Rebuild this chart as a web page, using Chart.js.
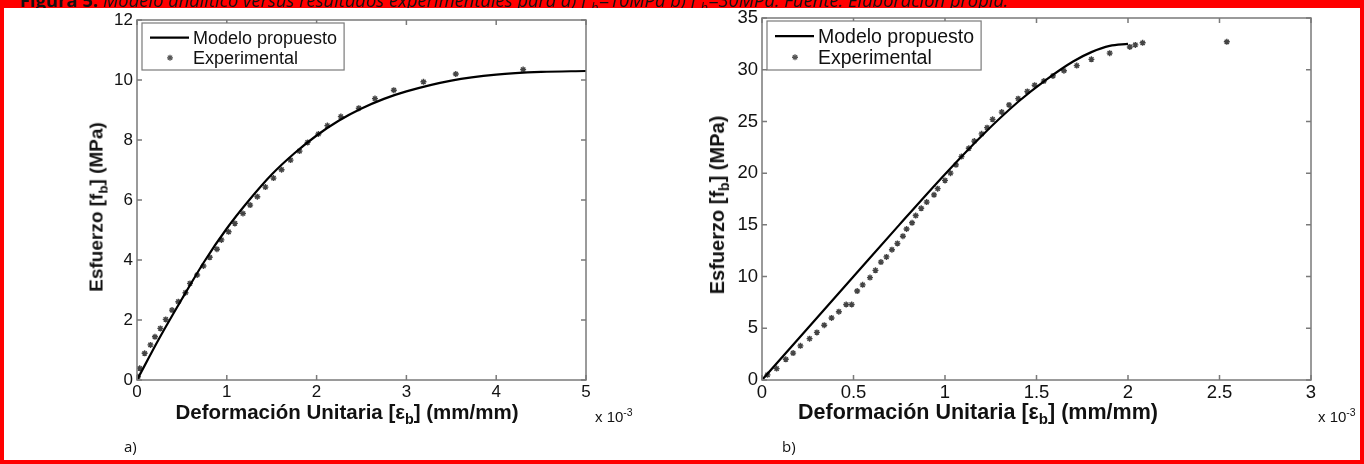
<!DOCTYPE html>
<html>
<head>
<meta charset="utf-8">
<script src="https://cdn.jsdelivr.net/npm/chart.js@4.4.0/dist/chart.umd.min.js"></script>
<style>
  body { margin: 0; background: #fff; }
  #page { position: relative; width: 1364px; height: 464px; overflow: hidden; background: #fff; font-family: "Liberation Sans", Arial, sans-serif; }
  #frame { position: absolute; left: 0; top: 0; width: 1364px; height: 464px; box-sizing: border-box; border: 4px solid #f00; border-top: none; z-index: 3; pointer-events: none; }
  #cap { position: absolute; left: 0; top: 0; width: 1364px; height: 8px; background: #f00; overflow: hidden; z-index: 4; }
  #cap span { position: absolute; left: 20px; top: -13px; white-space: nowrap; font: italic 18.4px "Open Sans", "Noto Sans", sans-serif; color: #111; }
  #cap b { font-style: normal; }
  canvas { position: absolute; top: 0; }
  .t { position: absolute; white-space: nowrap; color: #111; z-index: 2; line-height: 1; }
  .xt, .yt { font-weight: bold; font-family: "Liberation Sans", Arial, sans-serif; }
  .xt { transform: translateX(-50%); }
  .yt { transform: translate(-50%, -50%) rotate(-90deg); }
  .mult { font-family: "Liberation Sans", Arial, sans-serif; }
  .tag { font: 15px "Open Sans", "Noto Sans", sans-serif; }
  sub { font-size: 70%; vertical-align: -0.35em; }
  sup { font-size: 70%; vertical-align: 0.6em; }
</style>
</head>
<body>
<div id="page">
  <div id="cap"><span><b>Figura 5.</b> Modelo analítico versus resultados experimentales para a) f'<sub>b</sub>=10MPa b) f'<sub>b</sub>=30MPa. Fuente: Elaboración propia.</span></div>
  <canvas id="chartA" width="680" height="464" style="left:0"></canvas>
  <canvas id="chartB" width="684" height="464" style="left:680px"></canvas>

  <div class="t yt" style="left:98px; top:207px; font-size:19px">Esfuerzo [f<sub>b</sub>] (MPa)</div>
  <div class="t xt" style="left:347px; top:402px; font-size:20.5px">Deformación Unitaria [ε<sub>b</sub>] (mm/mm)</div>
  <div class="t mult" style="left:595px; top:407px; font-size:15px">x 10<sup>-3</sup></div>
  <div class="t tag" style="left:124px; top:436px">a)</div>

  <div class="t yt" style="left:719px; top:205px; font-size:20px">Esfuerzo [f<sub>b</sub>] (MPa)</div>
  <div class="t xt" style="left:978px; top:402px; font-size:21.5px">Deformación Unitaria [ε<sub>b</sub>] (mm/mm)</div>
  <div class="t mult" style="left:1318px; top:407px; font-size:15px">x 10<sup>-3</sup></div>
  <div class="t tag" style="left:782px; top:436px">b)</div>
  <div id="frame"></div>
</div>
<script>
// strain in x 10^-3 mm/mm, stress in MPa
const seriesNames = ['Modelo propuesto', 'Experimental'];

// a) f'b = 10 MPa
const modelStrainA = [0, 0.25, 0.5, 0.75, 1, 1.25, 1.5, 1.75, 2, 2.25, 2.5, 2.75, 3, 3.5, 4, 4.5, 5];
const modelStressA = [0, 1.4, 2.7, 3.95, 5.05, 6.0, 6.85, 7.55, 8.15, 8.65, 9.05, 9.37, 9.62, 9.98, 10.18, 10.27, 10.3];
const expStrainA = [0.01, 0.03, 0.085, 0.15, 0.2, 0.26, 0.32, 0.39, 0.46, 0.54, 0.59, 0.67, 0.74, 0.81, 0.89, 0.94, 1.02, 1.09,
  1.18, 1.26, 1.34, 1.43, 1.52, 1.61, 1.71, 1.81, 1.9, 2.02, 2.12, 2.27, 2.47, 2.65, 2.86, 3.19, 3.55, 4.3];
const expStressA = [0.11, 0.39, 0.89, 1.17, 1.44, 1.72, 2.02, 2.33, 2.61, 2.91, 3.22, 3.5, 3.8, 4.09, 4.36, 4.67, 4.94, 5.22,
  5.55, 5.83, 6.11, 6.43, 6.73, 7.01, 7.33, 7.63, 7.92, 8.2, 8.48, 8.78, 9.06, 9.38, 9.66, 9.94, 10.2, 10.35];

// b) f'b = 30 MPa
const modelStrainB = [0, 0.25, 0.5, 0.75, 1.0, 1.2, 1.4, 1.55, 1.7, 1.8, 1.9, 2.0];
const modelStressB = [0, 5.0, 10.0, 15.0, 19.9, 23.6, 26.9, 29.0, 30.8, 31.7, 32.3, 32.5];
const expStrainB = [0.03, 0.08, 0.13, 0.17, 0.21, 0.26, 0.3, 0.34, 0.38, 0.42, 0.46, 0.49, 0.52, 0.55, 0.59, 0.62, 0.65, 0.68,
  0.71, 0.74, 0.77, 0.79, 0.82, 0.84, 0.87, 0.9, 0.94, 0.96, 1.0, 1.03, 1.06, 1.09, 1.13, 1.16, 1.2, 1.23, 1.26, 1.31, 1.35,
  1.4, 1.45, 1.49, 1.54, 1.59, 1.65, 1.72, 1.8, 1.9, 2.01, 2.04, 2.08, 2.54];
const expStressB = [0.5, 1.1, 2.0, 2.6, 3.3, 4.0, 4.6, 5.3, 6.0, 6.6, 7.3, 7.3, 8.6, 9.2, 9.9, 10.6, 11.4, 11.9,
  12.6, 13.2, 13.9, 14.6, 15.2, 15.9, 16.6, 17.2, 17.9, 18.5, 19.3, 20.0, 20.8, 21.6, 22.4, 23.1, 23.8, 24.4, 25.2, 25.9, 26.6,
  27.2, 27.9, 28.5, 28.9, 29.4, 29.9, 30.4, 31.0, 31.6, 32.2, 32.4, 32.6, 32.7];

const pts = (xs, ys) => xs.map((x, i) => ({ x: x, y: ys[i] }));
const plainNum = v => String(Number(v.toFixed(3)));

// MATLAB style box with inward ticks and a boxed legend inside the axes
const matlabBox = {
  id: 'matlabBox',
  afterDatasetsDraw(chart, args, opts) {
    const ctx = chart.ctx;
    const a = chart.chartArea;
    const sx = chart.scales.x, sy = chart.scales.y;
    ctx.save();
    ctx.strokeStyle = '#7a7a7a';
    ctx.lineWidth = 1.5;
    ctx.strokeRect(a.left, a.top, a.right - a.left, a.bottom - a.top);
    ctx.beginPath();
    sx.ticks.forEach(t => {
      const px = sx.getPixelForValue(t.value);
      ctx.moveTo(px, a.bottom); ctx.lineTo(px, a.bottom - 5);
      ctx.moveTo(px, a.top); ctx.lineTo(px, a.top + 5);
    });
    sy.ticks.forEach(t => {
      const py = sy.getPixelForValue(t.value);
      ctx.moveTo(a.left, py); ctx.lineTo(a.left + 5, py);
      ctx.moveTo(a.right, py); ctx.lineTo(a.right - 5, py);
    });
    ctx.stroke();

    // legend
    const ds = chart.data.datasets;
    ctx.font = opts.fontSize + 'px "Liberation Sans"';
    const textW = Math.max(...ds.map(d => ctx.measureText(d.label).width));
    const x0 = a.left + 5, y0 = a.top + 3;
    const w = 52 + textW + 6, h = opts.boxH;
    ctx.fillStyle = '#fff';
    ctx.fillRect(x0, y0, w, h);
    ctx.strokeStyle = '#7a7a7a';
    ctx.lineWidth = 1.2;
    ctx.strokeRect(x0, y0, w, h);
    const rows = [y0 + h * 0.31, y0 + h * 0.74];
    ctx.strokeStyle = '#000';
    ctx.lineWidth = 2.2;
    ctx.beginPath();
    ctx.moveTo(x0 + 8, rows[0]); ctx.lineTo(x0 + 47, rows[0]);
    ctx.stroke();
    ctx.strokeStyle = '#555';
    ctx.fillStyle = '#555';
    ctx.lineWidth = 1.3;
    Chart.helpers.drawPoint(ctx, { pointStyle: 'star', radius: 3, borderWidth: 1.3 }, x0 + 28, rows[1]);
    ctx.fillStyle = '#111';
    ctx.textBaseline = 'middle';
    ds.forEach((d, i) => ctx.fillText(d.label, x0 + 51, rows[i] + 1));
    ctx.restore();
  }
};

function makeChart(id, modelX, modelY, expX, expY, xMax, xStep, yMax, yStep, pad, yWidth, fontSize, legendFont, legendH) {
  const tickFont = { family: 'Liberation Sans', size: fontSize };
  new Chart(document.getElementById(id), {
    type: 'scatter',
    data: {
      datasets: [
        {
          label: seriesNames[0],
          data: pts(modelX, modelY),
          showLine: true,
          borderColor: '#000',
          borderWidth: 2.2,
          pointRadius: 0,
          cubicInterpolationMode: 'monotone'
        },
        {
          label: seriesNames[1],
          data: pts(expX, expY),
          showLine: false,
          pointStyle: 'star',
          pointRadius: 3,
          borderColor: '#444',
          backgroundColor: '#444',
          borderWidth: 1.4
        }
      ]
    },
    options: {
      responsive: false,
      animation: false,
      layout: { padding: pad },
      plugins: {
        legend: { display: false },
        tooltip: { enabled: false },
        matlabBox: { fontSize: legendFont, boxH: legendH }
      },
      scales: {
        x: {
          type: 'linear', min: 0, max: xMax,
          ticks: { stepSize: xStep, font: tickFont, color: '#111', padding: 2, maxRotation: 0, callback: plainNum },
          grid: { display: false, drawTicks: false },
          border: { display: false },
          afterFit: s => { s.height = 84; }
        },
        y: {
          type: 'linear', min: 0, max: yMax,
          ticks: { stepSize: yStep, font: tickFont, color: '#111', padding: 4, callback: plainNum },
          grid: { display: false, drawTicks: false },
          border: { display: false },
          afterFit: s => { s.width = yWidth; }
        }
      }
    },
    plugins: [matlabBox]
  });
}

makeChart('chartA', modelStrainA, modelStressA, expStrainA, expStressA, 5, 1, 12, 2,
  { left: 0, top: 20, right: 94, bottom: 0 }, 137, 17, 18, 47);
makeChart('chartB', modelStrainB, modelStressB, expStrainB, expStressB, 3, 0.5, 35, 5,
  { left: 0, top: 18, right: 53, bottom: 0 }, 82, 18.5, 19.5, 49);
</script>
</body>
</html>
